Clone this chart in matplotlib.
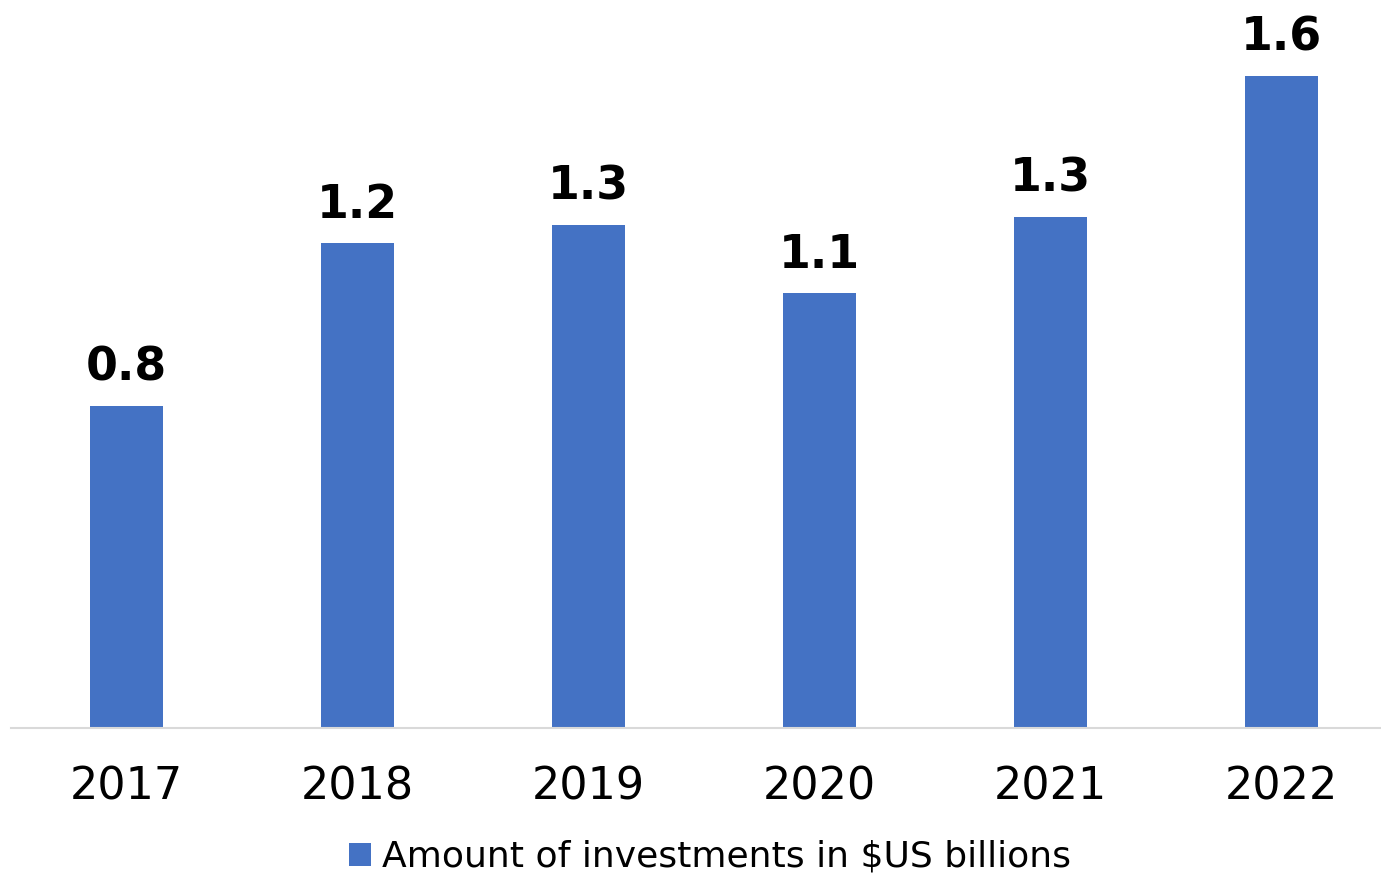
import matplotlib
matplotlib.use("Agg")
import matplotlib.pyplot as plt

years = ["2017", "2018", "2019", "2020", "2021", "2022"]
values = [0.80, 1.205, 1.25, 1.08, 1.27, 1.62]
labels = ["0.8", "1.2", "1.3", "1.1", "1.3", "1.6"]
series_name = "Amount of investments in $US billions"

W, H = 1381, 875
fig = plt.figure(figsize=(W / 100, H / 100), dpi=100)
ax = fig.add_axes([11.2 / W, 1 - 727.7 / H, (1397 - 11.2) / W, 727.7 / H])

x = list(range(len(years)))
bars = ax.bar(x, values, width=0.315, color="#4472C4", label=series_name, zorder=2)
ax.set_xlim(-0.5, len(years) - 0.5)
ax.set_ylim(0, 1.808)

for xi, v, lab in zip(x, values, labels):
    ax.annotate(lab, (xi, v), xytext=(0, 18), textcoords="offset points",
                ha="center", va="baseline", fontsize=33, fontweight="bold",
                color="black")

ax.set_xticks(x)
ax.set_xticklabels(years, fontsize=32)
ax.tick_params(axis="x", length=0, pad=27)
ax.set_yticks([])
for s in ["top", "right", "left"]:
    ax.spines[s].set_visible(False)
ax.spines["bottom"].set_color("#D9D9D9")
ax.spines["bottom"].set_linewidth(1.5)
ax.spines["bottom"].set_zorder(3)

leg = fig.legend(handles=[bars], labels=[series_name], loc="lower center",
                 bbox_to_anchor=(710 / W, -0.036), frameon=False, fontsize=26,
                 handlelength=0.6, handleheight=0.6, handletextpad=0.3)

fig.savefig("out.png", dpi=100)
